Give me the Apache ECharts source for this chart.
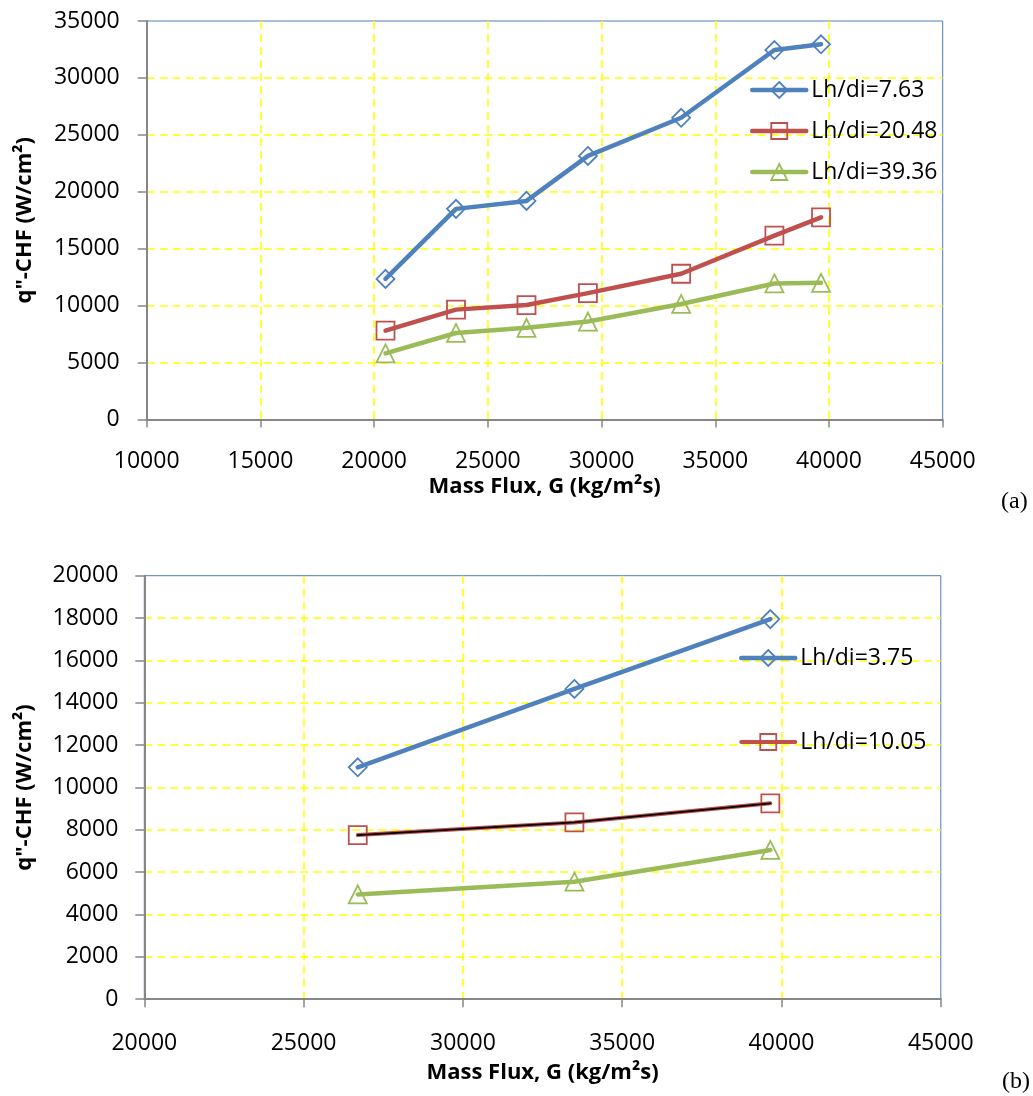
<!DOCTYPE html>
<html>
<head>
<meta charset="utf-8">
<script src="https://cdn.jsdelivr.net/npm/echarts@6/dist/echarts.min.js"></script>
<style>
  html, body { margin: 0; padding: 0; background: #ffffff; }
  #chart { width: 1033px; height: 1096px; }
</style>
</head>
<body>
<div id="chart"></div>
<script>
// ---- Panel (a): CHF vs mass flux for three heated-length ratios ----
const fluxA = [20500, 23600, 26700, 29400, 33500, 37600, 39650];
const chfA_763 = [12350, 18500, 19200, 23150, 26500, 32450, 32950];
const chfA_2048 = [7800, 9650, 10050, 11100, 12800, 16150, 17750];
const chfA_3936 = [5800, 7600, 8050, 8600, 10150, 11950, 12000];
const namesA = ['Lh/di=7.63', 'Lh/di=20.48', 'Lh/di=39.36'];

// ---- Panel (b) ----
const fluxB = [26700, 33500, 39650];
const chfB_375 = [10950, 14650, 17950];
const chfB_1005 = [7750, 8350, 9250];
const chfB_low = [4950, 5550, 7050];
const namesB = ['Lh/di=3.75', 'Lh/di=10.05'];

// Axis ranges (min, max, step)
const xRangeA = [10000, 45000, 5000];
const yRangeA = [0, 35000, 5000];
const xRangeB = [20000, 45000, 5000];
const yRangeB = [0, 20000, 2000];

const xTitle = 'Mass Flux, G (kg/m\u00b2s)';
const yTitle = 'q"-CHF (W/cm\u00b2)';

const BLUE = '#4F81BD', RED = '#C0504D', GREEN = '#9BBB59';
const AXIS_GREY = '#868686';
const FONT = '"Open Sans", "Noto Sans", sans-serif';

const pairs = (xs, ys) => xs.map((x, i) => [x, ys[i]]);
const plain = v => String(v);

function curve(name, xs, ys, idx, color, symbol, size, width) {
  return {
    type: 'line', name: name,
    xAxisIndex: idx, yAxisIndex: idx,
    data: pairs(xs, ys),
    symbol: symbol, symbolSize: size, showSymbol: true,
    lineStyle: { color: color, width: width, cap: 'round', join: 'round' },
    itemStyle: { color: 'rgba(255,255,255,0)', borderColor: color, borderWidth: 1.8 },
    emphasis: { disabled: true },
    z: 3
  };
}

function xAxisFor(idx, range, labelMargin, nameGap) {
  return {
    type: 'value', gridIndex: idx,
    min: range[0], max: range[1], interval: range[2],
    name: xTitle, nameLocation: 'middle', nameGap: nameGap,
    nameTextStyle: { fontFamily: FONT, fontSize: 22, fontWeight: 'bold', color: '#000' },
    axisLine: { show: true, onZero: false, lineStyle: { color: AXIS_GREY, width: 2 } },
    axisTick: { show: true, length: 8, lineStyle: { color: AXIS_GREY, width: 1.5 } },
    axisLabel: { margin: labelMargin, fontFamily: FONT, fontSize: 23, color: '#000',
                 formatter: plain, showMinLabel: true, showMaxLabel: true },
    splitLine: { show: true, showMinLine: false, showMaxLine: false,
                 lineStyle: { color: '#FFFF00', width: 1.6, type: [8, 5] } }
  };
}

function yAxisFor(idx, range, labelMargin, nameGap) {
  return {
    type: 'value', gridIndex: idx,
    min: range[0], max: range[1], interval: range[2],
    name: yTitle, nameLocation: 'middle', nameGap: nameGap,
    nameTextStyle: { fontFamily: FONT, fontSize: 22, fontWeight: 'bold', color: '#000' },
    axisLine: { show: true, onZero: false, lineStyle: { color: AXIS_GREY, width: 2 } },
    axisTick: { show: true, length: 9, lineStyle: { color: AXIS_GREY, width: 1.5 } },
    axisLabel: { margin: labelMargin, fontFamily: FONT, fontSize: 23, color: '#000',
                 formatter: plain, showMinLabel: true, showMaxLabel: true },
    splitLine: { show: true, showMinLine: false, showMaxLine: false,
                 lineStyle: { color: '#FFFF00', width: 1.6, type: [8, 5] } }
  };
}

const legendText = { fontFamily: FONT, fontSize: 23, color: '#000', lineHeight: 24 };

const option = {
  animation: false,
  backgroundColor: '#ffffff',
  grid: [
    { left: 146.7, top: 21, width: 796, height: 398.5, show: true,
      borderColor: '#4A7EBB', borderWidth: 1, backgroundColor: 'transparent', containLabel: false },
    { left: 144.3, top: 575.7, width: 796.5, height: 423.5, show: true,
      borderColor: '#4A7EBB', borderWidth: 1, backgroundColor: 'transparent', containLabel: false }
  ],
  xAxis: [ xAxisFor(0, xRangeA, 30, 56), xAxisFor(1, xRangeB, 33, 63) ],
  yAxis: [ yAxisFor(0, yRangeA, 27, 111), yAxisFor(1, yRangeB, 26, 109) ],
  legend: [
    { data: namesA, orient: 'vertical', left: 750, top: 78, padding: 0,
      itemWidth: 54, itemHeight: 20, itemGap: 17, selectedMode: false,
      lineStyle: { width: 'inherit' }, itemStyle: { borderWidth: 'inherit' },
      textStyle: legendText },
    { data: namesB, orient: 'vertical', left: 739, top: 646, padding: 0,
      itemWidth: 54, itemHeight: 20, itemGap: 60, selectedMode: false,
      lineStyle: { width: 'inherit' }, itemStyle: { borderWidth: 'inherit' },
      textStyle: legendText }
  ],
  series: [
    curve(namesA[0], fluxA, chfA_763, 0, BLUE, 'diamond', 18, 4.5),
    curve(namesA[1], fluxA, chfA_2048, 0, RED, 'rect', 18, 4.5),
    curve(namesA[2], fluxA, chfA_3936, 0, GREEN, 'triangle', 18, 4.5),

    curve(namesB[0], fluxB, chfB_375, 1, BLUE, 'diamond', 18, 4.5),
    curve(namesB[1], fluxB, chfB_1005, 1, RED, 'rect', 18, 4),
    // thin black trace drawn along the 10.05 curve
    {
      type: 'line', name: 'Lh/di=10.05 trace', xAxisIndex: 1, yAxisIndex: 1,
      data: pairs(fluxB, chfB_1005), symbol: 'none',
      lineStyle: { color: '#000000', width: 1.8, cap: 'round' },
      emphasis: { disabled: true }, z: 4
    },
    curve('Lh/di=lower', fluxB, chfB_low, 1, GREEN, 'triangle', 18, 4.5)
  ],
  graphic: [
    { type: 'text', left: 1001, top: 490,
      style: { text: '(a)', font: '24px "Liberation Serif", "DejaVu Serif", serif', fill: '#000' } },
    { type: 'text', left: 1002, top: 1070,
      style: { text: '(b)', font: '24px "Liberation Serif", "DejaVu Serif", serif', fill: '#000' } }
  ]
};

const chart = echarts.init(document.getElementById('chart'), null, { renderer: 'canvas' });
chart.setOption(option);
</script>
</body>
</html>
